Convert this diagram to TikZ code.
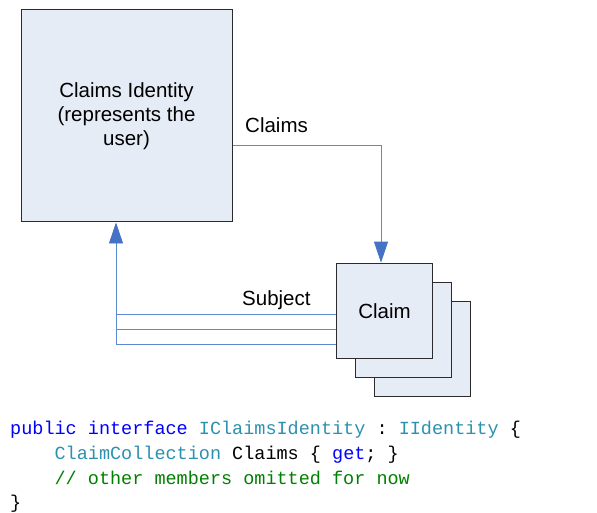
\documentclass[tikz,border=0pt]{standalone}
\usepackage{fontspec}
\setmainfont{Liberation Sans}
\setmonofont{Liberation Mono}
\usetikzlibrary{arrows.meta}
\definecolor{boxfill}{HTML}{E6ECF6}
\definecolor{boxline}{HTML}{2B2B2B}
\definecolor{linkblue}{HTML}{5A8AD0}
\definecolor{tipblue}{HTML}{4472C4}
\definecolor{kwblue}{HTML}{0000FF}
\definecolor{typeteal}{HTML}{2B91AF}
\definecolor{cmtgreen}{HTML}{008000}
\begin{document}
\begin{tikzpicture}[x=1pt,y=-1pt,
  classbox/.style={draw=boxline,fill=boxfill,line width=1pt,inner sep=0pt,
    align=center,font=\fontsize{20.5pt}{24pt}\selectfont},
  link/.style={draw=linkblue,line width=0.9pt},
  linkarrow/.style={link,-{Triangle[width=14pt,length=21pt,fill=tipblue,color=tipblue]}},
  lbl/.style={anchor=base west,inner sep=0pt,font=\fontsize{20.5pt}{24pt}\selectfont},
  code/.style={anchor=base west,inner sep=0pt,font=\ttfamily\fontsize{18.5pt}{22pt}\selectfont}]
\useasboundingbox (0,0) rectangle (597,513);

% identity class
\node[classbox,minimum width=211pt,minimum height=212pt] (ci) at (126.5,116)
  {Claims Identity\\(represents the\\user)};

% stacked claim boxes, back to front
\node[classbox,minimum width=95.6pt,minimum height=95.7pt] (c3) at (422.5,349) {};
\node[classbox,minimum width=95.6pt,minimum height=95.7pt] (c2) at (403.5,330) {};
\node[classbox,minimum width=95.6pt,minimum height=95.7pt] (c1) at (384.5,311) {Claim};

% Claims association
\draw[linkarrow] ([yshift=-29pt]ci.east) -| ([xshift=-3.5pt]c1.north);
\node[lbl] (lclaims) at (245,133) {Claims};

% Subject association: three parallel lines merging into one arrow
\coordinate (sv) at ([xshift=-10.5pt]ci.south);
\coordinate (s1) at ([yshift=-3.7pt]c1.west);
\coordinate (s2) at ([yshift=-18pt]c1.west);
\coordinate (s3) at ([yshift=-33.3pt]c1.west);
\draw[link] (s1) -- (s1 -| sv);
\draw[link] (s2) -- (s2 -| sv);
\draw[linkarrow] (s3) -| (sv);
\node[lbl] (lsubject) at (242,305) {Subject};

% interface definition
\node[code] (l1) at (10,434) {\textcolor{kwblue}{public interface} \textcolor{typeteal}{IClaimsIdentity} : \textcolor{typeteal}{IIdentity} \{};
\node[code] (l2) at (10,459) {\phantom{xxxx}\textcolor{typeteal}{ClaimCollection} Claims \{ \textcolor{kwblue}{get}; \}};
\node[code] (l3) at (10,484) {\phantom{xxxx}\textcolor{cmtgreen}{// other members omitted for now}};
\node[code] (l4) at (10,508) {\}};
\end{tikzpicture}
\end{document}
